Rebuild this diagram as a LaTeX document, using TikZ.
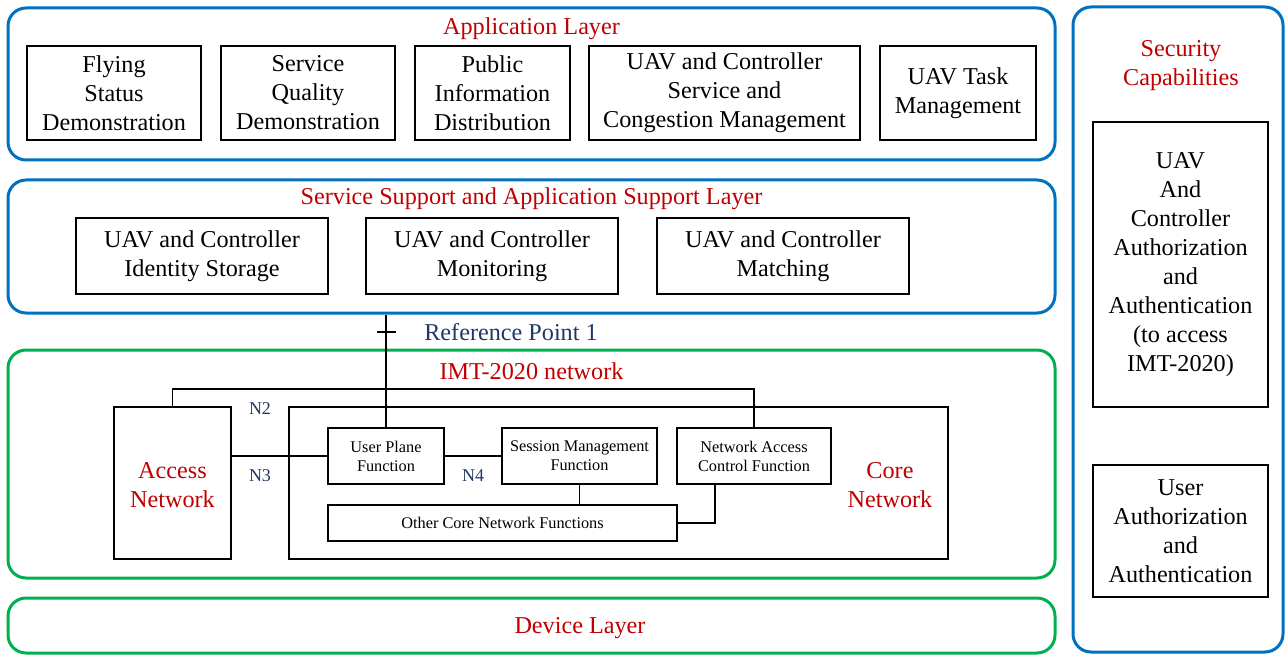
\documentclass[tikz,border=0pt]{standalone}
\usepackage{fontspec}
\setmainfont{Liberation Serif}
\usetikzlibrary{calc}
\definecolor{layerblue}{HTML}{0070C0}
\definecolor{layergreen}{HTML}{00B050}
\definecolor{titlered}{HTML}{C00000}
\definecolor{refblue}{HTML}{1F3864}

\begin{document}
\begin{tikzpicture}[x=1pt,y=-1pt,
    layer/.style={draw=#1,line width=3pt,rounded corners=18pt,inner sep=0pt},
    fbox/.style={draw,line width=1.4pt,align=center,inner sep=0pt,font=\fontsize{24.2}{29}\selectfont},
    sbox/.style={draw,line width=1.2pt,align=center,inner sep=0pt,font=\fontsize{16.3}{19}\selectfont},
    ltitle/.style={text=titlered,align=center,font=\fontsize{24.2}{29}\selectfont},
    reflabel/.style={text=refblue,font=\fontsize{18}{19}\selectfont}]
    \useasboundingbox (0,0) rectangle (1285,655);

    \node[layer=layerblue,minimum width=1047pt,minimum height=152pt] (app) at (531.5,84) {};
    \node[ltitle] (appt) at (531.5,29) {Application Layer};
    \node[fbox,minimum width=174pt,minimum height=94pt] (fsd) at (114,93) {Flying\\Status\\Demonstration};
    \node[fbox,minimum width=174pt,minimum height=94pt] (sqd) at (308,93) {Service\\Quality\\Demonstration};
    \node[fbox,minimum width=155pt,minimum height=94pt] (pid) at (492.5,93) {Public\\Information\\Distribution};
    \node[fbox,minimum width=271pt,minimum height=94pt] (scm) at (724.5,93) {UAV and Controller\\Service and\\Congestion Management};
    \node[fbox,minimum width=156pt,minimum height=94pt] (utm) at (958,93) {UAV Task\\Management};

    \node[layer=layerblue,minimum width=1047pt,minimum height=133pt] (ssl) at (531.5,246.5) {};
    \node[ltitle] (sslt) at (531.5,199) {Service Support and Application Support Layer};
    \node[fbox,minimum width=252pt,minimum height=76pt] (ids) at (202,256) {UAV and Controller\\Identity Storage};
    \node[fbox,minimum width=252pt,minimum height=76pt] (mon) at (492,256) {UAV and Controller\\Monitoring};
    \node[fbox,minimum width=252pt,minimum height=76pt] (mat) at (783,256) {UAV and Controller\\Matching};

    \node[text=refblue,font=\fontsize{24.2}{29}\selectfont] (rp) at (511,332) {Reference Point 1};

    \node[layer=layergreen,minimum width=1047pt,minimum height=228pt] (imt) at (531.5,464) {};
    \node[ltitle] (imtt) at (531.5,371) {IMT-2020 network};
    \node[draw,line width=1.4pt,minimum width=117pt,minimum height=152pt,inner sep=0pt] (an) at (172.5,483) {};
    \node[ltitle] (ant) at (172.5,485) {Access\\Network};
    \node[draw,line width=1.4pt,minimum width=659pt,minimum height=152pt,inner sep=0pt] (cn) at (618.5,483) {};
    \node[ltitle] (cnt) at (890,485) {Core\\Network};
    \node[sbox,minimum width=116pt,minimum height=56pt] (upf) at (386,456) {User Plane\\Function};
    \node[sbox,minimum width=155pt,minimum height=56pt] (smf) at (579.5,456) {Session Management\\Function};
    \node[sbox,minimum width=154pt,minimum height=56pt] (nacf) at (754,456) {Network Access\\Control Function};
    \node[sbox,minimum width=349pt,minimum height=36pt] (ocnf) at (502.5,523) {Other Core Network Functions};
    \node[reflabel] (n2) at (260,409) {N2};
    \node[reflabel] (n3) at (260,476) {N3};
    \node[reflabel] (n4) at (473,476) {N4};
    \coordinate (n2top) at (172,389);

    \node[layer=layergreen,minimum width=1047pt,minimum height=55pt] (dev) at (531.5,625.5) {};
    \node[ltitle] (devt) at (580,628) {Device Layer};

    \node[layer=layerblue,minimum width=210pt,minimum height=645pt] (sec) at (1178,329.5) {};
    \node[ltitle] (sect) at (1181,65.5) {Security\\Capabilities};
    \node[fbox,minimum width=175pt,minimum height=285pt] (uca) at (1180.5,264.5) {UAV\\And\\Controller\\Authorization\\and\\Authentication\\(to access\\IMT-2020)};
    \node[fbox,minimum width=175pt,minimum height=132pt] (ua) at (1180.5,531) {User\\Authorization\\and\\Authentication};

    \draw[line width=1.2pt] (upf.north) -- (upf.north |- ssl.south);
    \draw[line width=1.2pt] ($(upf.north |- rp)+(-9,0)$) -- ($(upf.north |- rp)+(10,0)$);
    \draw[line width=1.2pt] (an.north) -- (an.north |- n2top) -| (nacf.north);
    \draw[line width=1.2pt] (an.east |- upf.west) -- (upf.west);
    \draw[line width=1.2pt] (upf.east) -- (smf.west);
    \draw[line width=1.2pt] (smf.south) -- (smf.south |- ocnf.north);
    \draw[line width=1.2pt] ($(nacf.south)+(-39,0)$) |- (ocnf.east);
\end{tikzpicture}
\end{document}
